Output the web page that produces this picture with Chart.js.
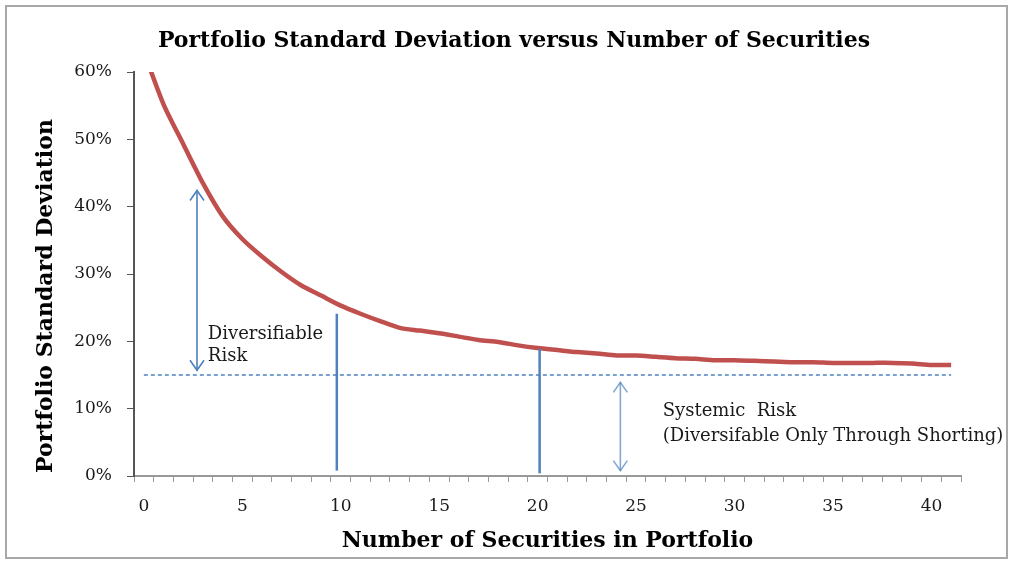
<!DOCTYPE html>
<html>
<head>
<meta charset="utf-8">
<script src="https://cdn.jsdelivr.net/npm/chart.js@4.4.1/dist/chart.umd.min.js"></script>
<style>
  html, body { margin: 0; padding: 0; background: #fff; }
  #wrap { position: relative; width: 1014px; height: 567px; }
</style>
</head>
<body>
<div id="wrap"><canvas id="riskChart"></canvas></div>
<script>
// number of securities held (category axis)
const securities = [0, 1, 2, 3, 4, 5, 6, 7, 8, 9, 10, 11, 12, 13, 14, 15, 16, 17, 18, 19, 20,
                    21, 22, 23, 24, 25, 26, 27, 28, 29, 30, 31, 32, 33, 34, 35, 36, 37, 38, 39, 40, 41];
// portfolio standard deviation, in percent (first point runs off the top of the axis)
const portfolioStdDev = [63.0, 55.2, 49.3, 43.5, 38.6, 35.2, 32.6, 30.3, 28.3, 26.8, 25.3,
                         24.1, 23.0, 22.0, 21.6, 21.2, 20.7, 20.2, 19.9, 19.4, 19.0,
                         18.7, 18.4, 18.2, 17.9, 17.9, 17.7, 17.5, 17.4, 17.2, 17.2,
                         17.1, 17.0, 16.9, 16.9, 16.8, 16.8, 16.8, 16.8, 16.7, 16.5, 16.5];
const xLabelEvery = 5;
const yMax = 60;
const yStep = 10;

// systematic risk floor (dashed)
const systemicRisk = 15;
// solid vertical markers
const markerX = [9.8, 20.1];
const markerTop = [24.1, 18.9];
const markerBottom = [0.8, 0.4];
// double-headed arrows
const arrowX = [2.7, 24.2];
const arrowTop = [42.4, 13.9];
const arrowBottom = [15.7, 0.8];
// annotation text: [x category, y percent, text]
const notes = [
  [3.25, 21.1, 'Diversifiable'],
  [3.25, 17.8, 'Risk'],
  [26.35, 9.65, 'Systemic  Risk'],
  [26.35, 5.9, '(Diversifable Only Through Shorting)']
];

const SERIF = '"DejaVu Serif", "Liberation Serif", serif';
const BLUE = '#4f81bd';

const frame = {
  id: 'frame',
  beforeDraw(chart) {
    const ctx = chart.ctx;
    ctx.save();
    ctx.fillStyle = '#fff';
    ctx.fillRect(0, 0, chart.width, chart.height);
    ctx.strokeStyle = '#a8a8a8';
    ctx.lineWidth = 2;
    ctx.strokeRect(6, 6, 1001, 552);
    ctx.restore();
  }
};

function arrowHead(ctx, x, y, dir) {
  ctx.beginPath();
  ctx.moveTo(x - 7, y + dir * 10);
  ctx.lineTo(x, y);
  ctx.lineTo(x + 7, y + dir * 10);
  ctx.stroke();
}

const notesPlugin = {
  id: 'notes',
  afterDatasetsDraw(chart) {
    const ctx = chart.ctx;
    const xs = chart.scales.x, ys = chart.scales.y;
    ctx.save();

    // dashed systematic risk level
    ctx.strokeStyle = BLUE;
    ctx.lineWidth = 1.5;
    ctx.setLineDash([4, 3]);
    ctx.beginPath();
    ctx.moveTo(xs.getPixelForValue(0), ys.getPixelForValue(systemicRisk));
    ctx.lineTo(xs.getPixelForValue(securities.length - 1), ys.getPixelForValue(systemicRisk));
    ctx.stroke();
    ctx.setLineDash([]);

    // vertical markers
    ctx.lineWidth = 2.5;
    markerX.forEach((v, i) => {
      const px = xs.getPixelForValue(v);
      ctx.beginPath();
      ctx.moveTo(px, ys.getPixelForValue(markerTop[i]));
      ctx.lineTo(px, ys.getPixelForValue(markerBottom[i]));
      ctx.stroke();
    });

    // arrows
    ctx.lineWidth = 1.6;
    arrowX.forEach((v, i) => {
      ctx.strokeStyle = i === 0 ? BLUE : 'rgba(79,129,189,0.7)';
      const px = xs.getPixelForValue(v);
      const top = ys.getPixelForValue(arrowTop[i]);
      const bot = ys.getPixelForValue(arrowBottom[i]);
      ctx.beginPath();
      ctx.moveTo(px, top);
      ctx.lineTo(px, bot);
      ctx.stroke();
      arrowHead(ctx, px, top, 1);
      arrowHead(ctx, px, bot, -1);
    });

    // labels
    ctx.fillStyle = '#1a1a1a';
    ctx.font = '18px ' + SERIF;
    ctx.textAlign = 'left';
    ctx.textBaseline = 'middle';
    notes.forEach(n => {
      ctx.fillText(n[2], xs.getPixelForValue(n[0]), ys.getPixelForValue(n[1]));
    });
    ctx.restore();
  }
};

new Chart(document.getElementById('riskChart'), {
  type: 'line',
  data: {
    labels: securities,
    datasets: [{
      label: 'Portfolio Standard Deviation',
      data: portfolioStdDev,
      borderColor: '#c0504d',
      borderWidth: 4.5,
      pointRadius: 0,
      tension: 0.25,
      clip: 0
    }]
  },
  options: {
    responsive: true,
    maintainAspectRatio: false,
    animation: false,
    // left padding keeps the chart title centred where the reference has it
    layout: { padding: { left: 67, right: 53, top: 0, bottom: 0 } },
    plugins: {
      legend: { display: false },
      tooltip: { enabled: false },
      title: {
        display: true,
        text: 'Portfolio Standard Deviation versus Number of Securities',
        color: '#000',
        font: { family: SERIF, size: 22, weight: 'bold', lineHeight: 1.2 },
        padding: { top: 28, bottom: 17.6 }
      }
    },
    scales: {
      x: {
        type: 'category',
        offset: true,
        grid: { offset: true, drawOnChartArea: false, tickLength: 6, color: '#999', lineWidth: 1 },
        border: { color: '#999', width: 2 },
        ticks: {
          autoSkip: false,
          maxRotation: 0,
          color: '#1a1a1a',
          font: { family: SERIF, size: 17 },
          padding: 14,
          callback: (v, i) => (i % xLabelEvery === 0 ? securities[i] : '')
        },
        title: {
          display: true,
          text: 'Number of Securities in Portfolio',
          color: '#000',
          font: { family: SERIF, size: 22, weight: 'bold', lineHeight: 1.2 },
          padding: { top: 0, bottom: 12.8 }
        },
        afterFit: s => { s.height = 91; }
      },
      y: {
        min: 0,
        max: yMax,
        ticks: {
          stepSize: yStep,
          color: '#1a1a1a',
          font: { family: SERIF, size: 17 },
          padding: 15,
          callback: v => v + '%'
        },
        grid: { drawOnChartArea: false, tickLength: 7, color: '#555', lineWidth: 1 },
        border: { color: '#555', width: 2 },
        title: {
          display: true,
          text: 'Portfolio Standard Deviation\u2003\u2003',
          color: '#000',
          font: { family: SERIF, size: 22, weight: 'bold', lineHeight: 1.2 },
          padding: { top: -34, bottom: 0 }
        },
        afterFit: s => { s.width = 67; }
      }
    }
  },
  plugins: [frame, notesPlugin]
});
</script>
</body>
</html>
